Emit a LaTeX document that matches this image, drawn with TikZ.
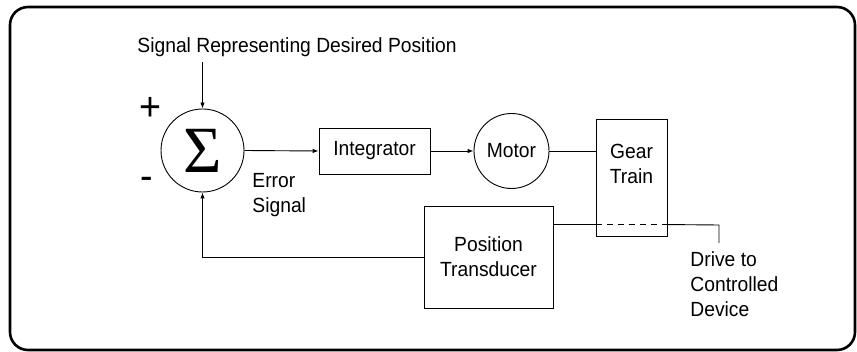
\documentclass[tikz,border=0pt]{standalone}
\usepackage{fontspec}
\setmainfont{Liberation Sans}[FakeStretch=0.94]
\newfontfamily\sigmafont{Liberation Serif}
\usetikzlibrary{arrows.meta,calc}
\begin{document}
\begin{tikzpicture}[x=1pt,y=-1pt,
  line width=0.9pt,
  every node/.style={font=\fontsize{20.5}{25}\selectfont, inner sep=0pt},
  blockbox/.style={draw, rectangle, line width=0.9pt},
  ring/.style={draw, circle, line width=0.9pt},
  arr/.style={-{Latex[length=6pt,width=4.5pt]}},
  txt/.style={align=left}]
\useasboundingbox (0,0) rectangle (857,352);
% outer frame
\draw[line width=2.6pt, rounded corners=18pt] (10,7) rectangle (855,350);

% blocks
\node[ring, minimum size=83pt] (sum) at (202.5,150.5)
  {\raisebox{-3pt}{\sigmafont\fontsize{66}{66}\selectfont Σ}};
\node[blockbox, minimum width=111pt, minimum height=46pt] (integ) at (374.5,151) {Integrator};
\node[ring, minimum size=75pt] (motor) at (511.5,151) {Motor};
\node[blockbox, minimum width=71pt, minimum height=117pt] (gear) at (631.5,177.5) {};
\node[txt, align=center] (geartxt) at (631.5,164) {Gear\\Train};
\node[blockbox, minimum width=129pt, minimum height=102pt, align=center] (trans) at (488.5,257) {Position\\Transducer};

% labels
\node[anchor=west] (sig) at (137,47) {Signal Representing Desired Position};
\node (plus) at (150,109) {\fontsize{40}{40}\selectfont +};
\node (minus) at (147,183) {\fontsize{40}{40}\selectfont -};
\node[txt, anchor=west] (err) at (252,195.5) {Error\\Signal};
\node[txt, anchor=west] (drive) at (690,284.5) {Drive to\\Controlled\\Device};

% connectors
\coordinate (sigin) at (202.5,62);
\draw[arr] (sigin) -- (sum.north);
\draw[arr] (sum.east) -- (integ.west);
\draw[arr] (integ.east) -- (motor.west);
\draw (motor.east) -- (motor.east -| gear.west);
\coordinate (tap) at ($(trans.north east)+(0,19)$);
\coordinate (corner) at (719,225);
\coordinate (driveend) at (719,243);
\draw (tap) -- (tap -| gear.west);
\draw[dashed, dash pattern=on 6pt off 5pt] (tap -| gear.west) -- (tap -| gear.east);
\draw (tap -| gear.east) -- (corner) -- (driveend);
\draw[arr] (trans.west) -- (trans.west -| sum.south) -- (sum.south);
\end{tikzpicture}
\end{document}
